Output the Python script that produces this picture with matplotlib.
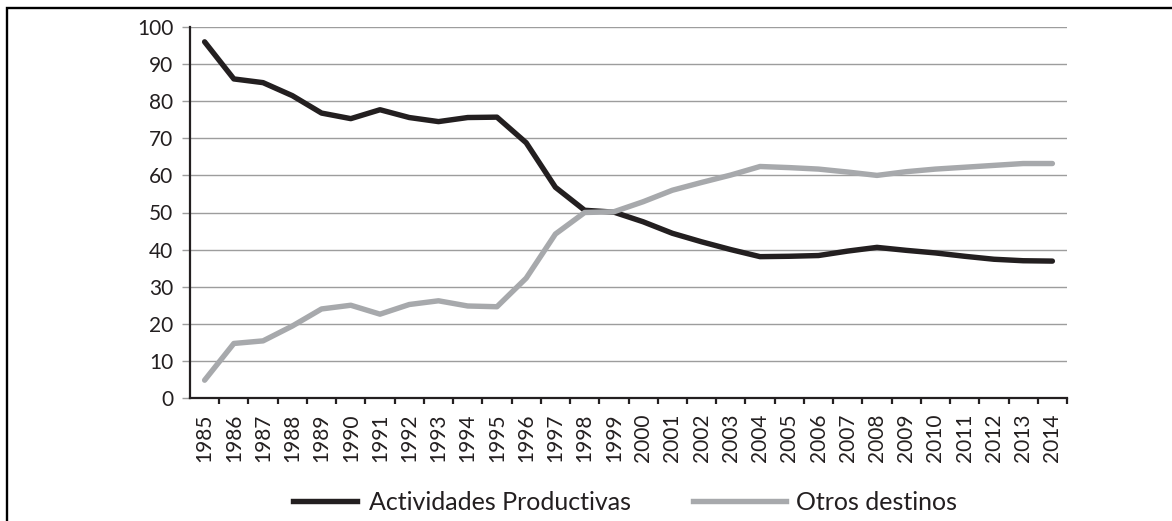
import matplotlib
matplotlib.use("Agg")
import matplotlib.pyplot as plt
from matplotlib.patches import Rectangle

# Datos
anios = list(range(1985, 2015))
productivas = [96, 86, 85, 81.5, 76.8, 75.3, 77.7, 75.6, 74.5, 75.6,
               75.7, 68.8, 56.8, 50.6, 50.1, 47.5, 44.4, 42.1, 40.0, 38.1,
               38.2, 38.4, 39.6, 40.6, 39.8, 39.1, 38.2, 37.4, 37.0, 36.9]
otros = [4.8, 14.7, 15.4, 19.4, 24.0, 25.0, 22.6, 25.2, 26.2, 24.8,
         24.6, 32.3, 44.2, 50.0, 50.2, 52.9, 56.0, 58.1, 60.1, 62.4,
         62.1, 61.7, 60.9, 60.0, 61.0, 61.7, 62.2, 62.7, 63.2, 63.2]

negro = "#231f20"
gris = "#a7a9ac"

plt.rcParams["font.family"] = ["Lato", "DejaVu Sans"]

fig = plt.figure(figsize=(11.72, 5.21), dpi=100)
ax = fig.add_axes([190 / 1172, 1 - 398 / 521, 877 / 1172, 371 / 521])

ax.plot(anios, productivas, color=negro, lw=3.9, solid_joinstyle="round",
        solid_capstyle="round", zorder=3)
ax.plot(anios, otros, color=gris, lw=3.9, solid_joinstyle="round",
        solid_capstyle="round", zorder=3)

ax.set_xlim(1984.5, 2014.5)
ax.set_ylim(0, 100)
ax.set_yticks(range(0, 101, 10))
ax.yaxis.grid(True, color="#9d9d9d", lw=1.0)
ax.set_axisbelow(True)

ax.set_xticks(anios)
ax.set_xticklabels([str(a) for a in anios], rotation=90)
ax.set_xticks([a + 0.5 for a in anios], minor=True)
ax.tick_params(axis="x", which="major", length=0, pad=11, labelsize=15,
               labelcolor=negro)
ax.tick_params(axis="x", which="minor", length=4.5, width=1.6, color=negro,
               direction="out")
ax.tick_params(axis="y", length=6, width=1.0, color="#9d9d9d", pad=6,
               labelsize=15, labelcolor=negro)

for s in ["top", "right"]:
    ax.spines[s].set_visible(False)
for s in ["left", "bottom"]:
    ax.spines[s].set_color(negro)
    ax.spines[s].set_linewidth(1.6)

# leyenda en dos bloques
h1, = ax.plot([], [], color=negro, lw=3.9)
h2, = ax.plot([], [], color=gris, lw=3.9)
kw = dict(frameon=False, fontsize=18, borderpad=0, borderaxespad=0,
          loc="center left", labelcolor=negro)
leg1 = fig.legend([h1], ["Actividades Productivas"], handlelength=2.55,
                  handletextpad=0.5,
                  bbox_to_anchor=(293 / 1172, 1 - 502 / 521), **kw)
leg2 = fig.legend([h2], ["Otros destinos"], handlelength=3.7,
                  handletextpad=0.42,
                  bbox_to_anchor=(693 / 1172, 1 - 502 / 521), **kw)

# marco exterior
fig.add_artist(Rectangle((7 / 1172, -0.05), 1.1, 1 - 8 / 521 + 0.05,
                         transform=fig.transFigure, fill=False,
                         edgecolor="black", lw=1.7))

fig.savefig("out.png", dpi=100)
